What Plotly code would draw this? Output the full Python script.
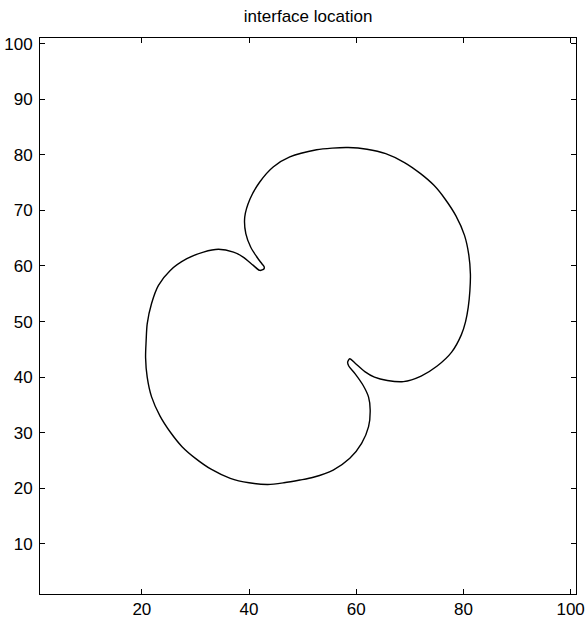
import plotly.graph_objects as go

# Interface curve coordinates, closed loop
curve_x = [42.8, 42.4, 41.4, 40.3, 39.4, 39.2, 40.2, 42.0, 44.5, 47.6, 52.6, 55.5, 58.5,
           62.0, 65.5, 69.0, 72.0, 74.5, 76.6, 78.6, 80.2, 81.0, 81.3, 81.2, 80.9, 80.4,
           79.6, 77.8, 75.1, 72.1, 68.8, 65.8, 63.4, 61.6, 59.8, 58.8, 58.4, 58.6, 59.8,
           61.3, 62.3, 62.6, 62.3, 61.0, 58.8, 55.7, 52.0, 49.5, 46.5, 43.5, 40.0, 36.5,
           33.0, 30.0, 27.5, 25.4, 23.4, 21.8, 21.0, 20.7, 20.8, 21.0, 21.8, 23.1, 25.3,
           28.4, 31.5, 34.3, 37.1, 38.9, 40.8, 42.0, 42.8, 42.8]
curve_y = [59.9, 60.4, 61.7, 63.4, 65.8, 68.8, 72.1, 75.1, 77.8, 79.6, 80.9, 81.2, 81.3,
           81.0, 80.2, 78.6, 76.6, 74.5, 72.0, 69.0, 65.5, 62.0, 58.5, 55.5, 52.6, 50.0,
           47.6, 44.5, 42.0, 40.2, 39.2, 39.4, 40.0, 41.0, 42.5, 43.3, 42.7, 42.0, 40.6,
           38.5, 36.4, 34.1, 31.1, 28.1, 25.4, 23.3, 22.0, 21.5, 21.0, 20.7, 21.0, 21.8,
           23.4, 25.4, 27.5, 30.0, 33.0, 36.5, 40.0, 43.5, 46.5, 49.6, 53.2, 56.5, 59.2,
           61.3, 62.5, 63.0, 62.5, 61.6, 60.1, 59.2, 59.5, 59.9]

x_ticks = [20, 40, 60, 80, 100]
y_ticks = [10, 20, 30, 40, 50, 60, 70, 80, 90, 100]
x_range = [1, 101]
y_range = [1, 101]
title_text = "interface location"

fig = go.Figure()
fig.add_trace(go.Scatter(
    x=curve_x, y=curve_y, mode="lines",
    line=dict(color="black", width=1.4, shape="spline", smoothing=0.8),
    showlegend=False, hoverinfo="skip"))

axis_common = dict(
    showgrid=False, zeroline=False, showline=True, linecolor="black", linewidth=1,
    mirror="allticks", ticks="inside", ticklen=5, tickwidth=1, tickcolor="black",
    automargin=False,
    tickfont=dict(family="Liberation Sans, Arial, sans-serif", size=17, color="black"),
)
fig.update_xaxes(range=x_range, tickvals=x_ticks, ticktext=[str(v) for v in x_ticks], **axis_common)
fig.update_yaxes(range=y_range, tickvals=y_ticks, ticktext=[str(v) for v in y_ticks],
                 ticklabelstandoff=3, **axis_common)

fig.update_layout(
    width=588, height=619,
    margin=dict(l=40, r=12, t=38, b=25, pad=0, autoexpand=False),
    paper_bgcolor="white", plot_bgcolor="white",
    title=dict(text=title_text, x=0.524, xanchor="center", y=0.974, yanchor="middle",
               automargin=False,
               font=dict(family="Liberation Sans, Arial, sans-serif", size=17, color="black")),
)

fig.write_html("out.html")
